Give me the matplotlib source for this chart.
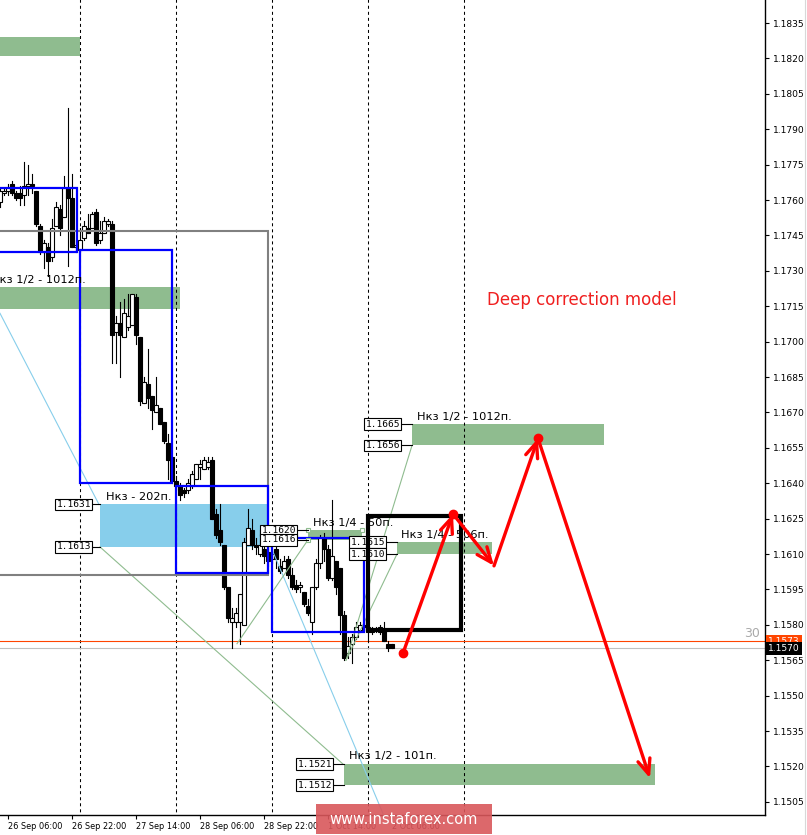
import matplotlib
matplotlib.use("Agg")
import matplotlib.pyplot as plt
from matplotlib.patches import Rectangle
from matplotlib.lines import Line2D

# H1 candles, left to right (bar index = position on chart)
opens = [1.1759, 1.1763, 1.1764, 1.1767, 1.1763, 1.1763, 1.1762, 1.1766, 1.1767, 1.1764,
         1.1749, 1.1738, 1.1740, 1.1736, 1.1749, 1.1756, 1.1753, 1.1765, 1.1761, 1.1740,
         1.1739, 1.1744, 1.1748, 1.1748, 1.1755, 1.1743, 1.1746, 1.1750, 1.1750, 1.1704,
         1.1708, 1.1702, 1.1706, 1.1707, 1.1719, 1.1702, 1.1674, 1.1682, 1.1677, 1.1670,
         1.1672, 1.1666, 1.1657, 1.1651, 1.1641, 1.1639, 1.1637, 1.1637, 1.1639, 1.1642,
         1.1647, 1.1646, 1.1647, 1.1650, 1.1627, 1.1620, 1.1614, 1.1596, 1.1581, 1.1581,
         1.1581, 1.1580, 1.1614, 1.1620, 1.1614, 1.1610, 1.1612, 1.1611, 1.1608, 1.1612,
         1.1605, 1.1604, 1.1608, 1.1601, 1.1597, 1.1596, 1.1594, 1.1588, 1.1581, 1.1596,
         1.1606, 1.1617, 1.1612, 1.1600, 1.1607, 1.1604, 1.1584, 1.1568, 1.1572, 1.1575,
         1.1578, 1.1580, 1.1579, 1.1578, 1.1578, 1.1577, 1.1578, 1.1572, 1.1572]
highs = [1.1765, 1.1765, 1.1767, 1.1768, 1.1764, 1.1766, 1.1776, 1.1775, 1.1771, 1.1764,
         1.1750, 1.1743, 1.1742, 1.1752, 1.1759, 1.1758, 1.1770, 1.1799, 1.1771, 1.1743,
         1.1748, 1.1751, 1.1754, 1.1755, 1.1756, 1.1751, 1.1753, 1.1752, 1.1751, 1.1711,
         1.1717, 1.1718, 1.1720, 1.1720, 1.1720, 1.1702, 1.1685, 1.1697, 1.1677, 1.1685,
         1.1672, 1.1666, 1.1661, 1.1651, 1.1643, 1.1640, 1.1638, 1.1642, 1.1645, 1.1648,
         1.1650, 1.1651, 1.1651, 1.1651, 1.1629, 1.1631, 1.1614, 1.1596, 1.1587, 1.1587,
         1.1593, 1.1617, 1.1629, 1.1625, 1.1617, 1.1620, 1.1617, 1.1614, 1.1612, 1.1613,
         1.1608, 1.1609, 1.1609, 1.1604, 1.1599, 1.1598, 1.1594, 1.1591, 1.1596, 1.1608,
         1.1618, 1.1619, 1.1614, 1.1633, 1.1607, 1.1604, 1.1586, 1.1575, 1.1576, 1.1581,
         1.1581, 1.1582, 1.1580, 1.1579, 1.1579, 1.1580, 1.1581, 1.1573, 1.1572]
lows = [1.1757, 1.1762, 1.1762, 1.1762, 1.1760, 1.1758, 1.1758, 1.1762, 1.1763, 1.1749,
        1.1737, 1.1731, 1.1728, 1.1734, 1.1749, 1.1745, 1.1753, 1.1732, 1.1740, 1.1738,
        1.1738, 1.1743, 1.1746, 1.1748, 1.1741, 1.1742, 1.1746, 1.1749, 1.1691, 1.1691,
        1.1685, 1.1702, 1.1705, 1.1707, 1.1699, 1.1673, 1.1674, 1.1672, 1.1663, 1.1670,
        1.1665, 1.1657, 1.1642, 1.1640, 1.1637, 1.1633, 1.1634, 1.1636, 1.1638, 1.1642,
        1.1642, 1.1646, 1.1646, 1.1625, 1.1617, 1.1614, 1.1595, 1.1581, 1.1570, 1.1579,
        1.1572, 1.1580, 1.1614, 1.1612, 1.1610, 1.1609, 1.1606, 1.1605, 1.1606, 1.1604,
        1.1602, 1.1604, 1.1600, 1.1595, 1.1594, 1.1594, 1.1588, 1.1584, 1.1576, 1.1595,
        1.1604, 1.1607, 1.1599, 1.1599, 1.1593, 1.1576, 1.1565, 1.1566, 1.1564, 1.1574,
        1.1577, 1.1578, 1.1573, 1.1576, 1.1577, 1.1576, 1.1573, 1.1569, 1.1570]
closes = [1.1764, 1.1764, 1.1765, 1.1763, 1.1761, 1.1761, 1.1766, 1.1767, 1.1766, 1.1750,
          1.1738, 1.1742, 1.1734, 1.1748, 1.1757, 1.1748, 1.1765, 1.1761, 1.1740, 1.1741,
          1.1743, 1.1749, 1.1746, 1.1754, 1.1742, 1.1746, 1.1751, 1.1751, 1.1703, 1.1708,
          1.1703, 1.1712, 1.1711, 1.1720, 1.1703, 1.1675, 1.1683, 1.1676, 1.1671, 1.1673,
          1.1665, 1.1658, 1.1650, 1.1641, 1.1639, 1.1635, 1.1636, 1.1640, 1.1644, 1.1648,
          1.1648, 1.1650, 1.1649, 1.1625, 1.1618, 1.1615, 1.1596, 1.1583, 1.1583, 1.1585,
          1.1593, 1.1615, 1.1621, 1.1614, 1.1613, 1.1614, 1.1609, 1.1607, 1.1610, 1.1608,
          1.1603, 1.1607, 1.1601, 1.1596, 1.1595, 1.1597, 1.1589, 1.1585, 1.1596, 1.1606,
          1.1617, 1.1612, 1.1600, 1.1609, 1.1596, 1.1584, 1.1566, 1.1571, 1.1575, 1.1579,
          1.1580, 1.1579, 1.1577, 1.1577, 1.1578, 1.1579, 1.1573, 1.1570, 1.1570]

date_labels = ["26 Sep 06:00", "26 Sep 22:00", "27 Sep 14:00", "28 Sep 06:00",
               "28 Sep 22:00", "1 Oct 14:00", "2 Oct 06:00"]
date_bars = [2, 18, 34, 50, 66, 82, 98]
day_starts = [20, 44, 68, 92, 116]
price_ticks = [1.1505, 1.1520, 1.1535, 1.1550, 1.1565, 1.1580, 1.1595, 1.1610,
               1.1625, 1.1640, 1.1655, 1.1670, 1.1685, 1.1700, 1.1715, 1.1730,
               1.1745, 1.1760, 1.1775, 1.1790, 1.1805, 1.1820, 1.1835]

# zones (top, bottom)
zone_top_old = (1.1829, 1.1821)
zone_1012_old = (1.1723, 1.1714)
zone_202 = (1.1631, 1.1613)
zone_50 = (1.1620, 1.1616)
zone_1012 = (1.1665, 1.1656)
zone_506 = (1.1615, 1.1610)
zone_101 = (1.1521, 1.1512)

# rectangles (top, bottom)
box_gray = (1.1747, 1.1601)
boxes_blue = [(1.1765, 1.1738), (1.1739, 1.1640), (1.1639, 1.1602), (1.1617, 1.1577)]
box_black = (1.1626, 1.1578)

# model path (arrows)
model_bar = [100.75, 113.25, 123.5, 134.5, 162.5]
model_price = [1.1568, 1.1627, 1.1605, 1.1659, 1.1515]

bid, ask = 1.1570, 1.1573

GREEN = "#8fbc8f"
SKY = "#87ceeb"
PX = 0.25  # bars per pixel

fig = plt.figure(figsize=(8.07, 8.35), dpi=100)
ax = fig.add_axes([0, 20 / 835, 765 / 807, 815 / 835])
ax.set_xlim(0, 191.25)
ax.set_ylim(1.149943, 1.184475)


def zone(x0, x1, lv, color=GREEN):
    ax.add_patch(Rectangle((x0, lv[1]), x1 - x0, lv[0] - lv[1], fc=color, ec="none", zorder=1))


def label(x, lv, s):
    ax.text(x, lv[0] + 0.0002, s, ha="left", va="baseline", fontsize=8.2,
            family="DejaVu Sans", zorder=5, clip_on=True)


def pbox(xr, xz, price):
    ax.plot([xr, xz], [price, price], color="black", lw=0.8, zorder=5)
    ax.text(xr, price, f"{price:.4f}", ha="right", va="center", family="DejaVu Sans Mono",
            fontsize=6.8, zorder=6,
            bbox=dict(boxstyle="square,pad=0.15", fc="white", ec="black", lw=0.8))


def rect(x0, x1, lv, color, lw, z):
    ax.add_patch(Rectangle((x0, lv[1]), x1 - x0, lv[0] - lv[1], fc="none", ec=color, lw=lw, zorder=z))


# zones
zone(-5, 20, zone_top_old)
zone(-5, 45, zone_1012_old)
zone(25, 67, zone_202, SKY)
zone(77, 90.5, zone_50)
zone(103, 151, zone_1012)
zone(99.25, 123, zone_506)
zone(86, 163.75, zone_101)

# day separators, bid / ask
ax.vlines(day_starts, 1.14, 1.19, colors="black", linestyles=(0, (2.9, 2.9)), lw=0.75, zorder=1.5)
ax.axhline(ask, color="#ff4500", lw=0.8, zorder=1.6)
ax.axhline(bid, color="#c0c0c0", lw=0.8, zorder=1.6)

# candles
for i, (o, h, l, c) in enumerate(zip(opens, highs, lows, closes)):
    ax.plot([i, i], [l, h], color="black", lw=0.8, zorder=2)
    ax.add_patch(Rectangle((i - 0.38, min(o, c)), 0.76, abs(c - o),
                           fc="white" if c >= o else "black", ec="black", lw=0.8, zorder=3))

# thin guide lines
ax.plot([0, 24.75], [1.1712, 1.1631], color=SKY, lw=0.8, zorder=4)
ax.plot([66.75, 95.75], [1.1617, 1.1500], color=SKY, lw=0.8, zorder=4)
ax.plot([25, 85.75], [zone_202[1], zone_101[0]], color=GREEN, lw=0.8, zorder=4)
ax.plot([59.25, 77], [lows[60], zone_50[1]], color=GREEN, lw=0.8, zorder=4)
ax.plot([86.5, 103], [lows[86], zone_1012[1]], color=GREEN, lw=0.8, zorder=4)
ax.plot([86.5, 99.25], [lows[86], zone_506[1]], color=GREEN, lw=0.8, zorder=4)

# rectangles
rect(-5, 67, box_gray, "#808080", 1.5, 4)
for (x0, x1), lv in zip([(-5, 19.25), (20, 43), (44, 67), (68, 91)], boxes_blue):
    rect(x0, x1, lv, "#0000ff", 1.6, 4.2)

# corner handles of the selected zone
ax.plot([77, 90.5, 77, 90.5], [zone_50[0], zone_50[0], zone_50[1], zone_50[1]], "s",
        ms=3, mfc="white", mec=GREEN, mew=0.8, zorder=4.5)

# zone labels
label(-9 * PX, zone_1012_old, "Нкз 1/2 - 1012п.")
label(106 * PX, zone_202, "Нкз - 202п.")
label(313 * PX, zone_50, "Нкз 1/4 - 50п.")
label(417 * PX, zone_1012, "Нкз 1/2 - 1012п.")
label(401 * PX, zone_506, "Нкз 1/4 - 506п.")
label(349 * PX, zone_101, "Нкз 1/2 - 101п.")

# price boxes
for lv, xr, xz in [(zone_1012, 400, 412), (zone_506, 385, 397), (zone_50, 296, 308),
                   (zone_202, 91, 100), (zone_101, 332, 344)]:
    pbox(xr * PX, xz * PX, lv[0])
    pbox(xr * PX, xz * PX, lv[1])

rect(92, 115.25, box_black, "black", 3, 7)

# model arrows
for i in range(len(model_bar) - 1):
    ax.annotate("", xy=(model_bar[i + 1], model_price[i + 1]),
                xytext=(model_bar[i], model_price[i]),
                arrowprops=dict(arrowstyle="->,head_length=0.6,head_width=0.25", color="red",
                                lw=2.4, mutation_scale=18, shrinkA=0, shrinkB=0),
                zorder=8)
ax.plot([model_bar[0], model_bar[1], model_bar[3]],
        [model_price[0], model_price[1], model_price[3]], "o", color="red", ms=6, zorder=9)

ax.text(487 * PX, 1.17154, "Deep correction model", color="#f02020", fontsize=12,
        ha="left", va="baseline", zorder=9)

# axes
ax.yaxis.tick_right()
ax.set_yticks(price_ticks, [f"{t:.4f}" for t in price_ticks])
ax.tick_params(axis="y", direction="out", length=3, width=0.8, labelsize=6.6, pad=3)
ax.set_xticks(date_bars, date_labels)
for t in ax.get_xticklabels():
    t.set_ha("left")
ax.tick_params(axis="x", direction="out", length=3, width=0.8, labelsize=5.9, pad=2)
for s in ("top", "left"):
    ax.spines[s].set_visible(False)
for s in ("right", "bottom"):
    ax.spines[s].set_linewidth(1)

ytr = ax.get_yaxis_transform()
ax.text(0.9935, 1.15765, "30", transform=ytr, ha="right", va="center", color="#a9a9a9", fontsize=9)
ax.text(1.004, ask, f"{ask:.4f}", transform=ytr, ha="left", va="center", color="white",
        fontsize=6.6, clip_on=False, zorder=10,
        bbox=dict(boxstyle="square,pad=0.2", fc="#ff4500", ec="none"))
ax.text(1.004, bid, f"{bid:.4f}", transform=ytr, ha="left", va="center", color="white",
        fontsize=6.6, clip_on=False, zorder=11,
        bbox=dict(boxstyle="square,pad=0.2", fc="black", ec="none"))

fig.add_artist(Line2D([805 / 807, 805 / 807], [0, 1], color="#d8d8d8", lw=0.8))

# watermark
fig.patches.append(Rectangle((316 / 807, 1 / 835), 176 / 807, 30 / 835, transform=fig.transFigure,
                             fc="#d9575b", alpha=0.9, ec="none", zorder=5))
fig.text(404 / 807, 16 / 835, "www.instaforex.com", color="white", fontsize=10.5,
         ha="center", va="center", zorder=6)

fig.savefig("out.png", dpi=100)
